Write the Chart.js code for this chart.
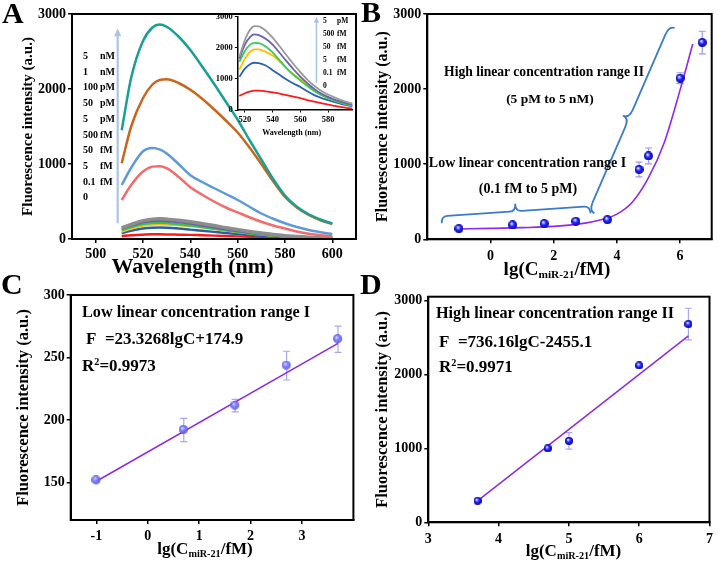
<!DOCTYPE html>
<html><head><meta charset="utf-8">
<script src="https://cdn.jsdelivr.net/npm/chart.js@4.4.1/dist/chart.umd.min.js"></script>
<style>
html,body{margin:0;padding:0;background:#fff;}
#wrap{position:relative;width:718px;height:561px;overflow:hidden;font-family:'Liberation Serif','Times New Roman',serif;font-weight:bold;color:#000;}
canvas{position:absolute;}
.t{position:absolute;white-space:nowrap;line-height:1;}
.sb{font-size:0.6em;position:relative;top:0.3em;}
.sp{font-size:0.6em;position:relative;top:-0.55em;}
</style></head><body><div id="wrap">
<canvas id="cA" width="359" height="280" style="left:0;top:0"></canvas>
<canvas id="cI" width="158" height="135" style="left:200px;top:5px"></canvas>
<canvas id="cB" width="359" height="280" style="left:359px;top:0"></canvas>
<canvas id="cC" width="359" height="281" style="left:0;top:280px"></canvas>
<canvas id="cD" width="359" height="281" style="left:359px;top:280px"></canvas>
</div>
<script>
// ---------------- DATA ----------------
// Panel A: fluorescence spectra (main plot)
const WAVES = [511,515,520,524,527,530,535,540,545,550,555,560,565,570,575,580,585,590,595,600];
const A_LABELS = [['5','nM'],['1','nM'],['100','pM'],['50','pM'],['5','pM'],['500','fM'],['50','fM'],['5','fM'],['0.1','fM'],['0','']];
const A_5nM   = [1450,2150,2640,2820,2860,2830,2700,2520,2300,2070,1830,1590,1320,1060,800,580,430,330,260,205];
const A_1nM   = [1010,1500,1880,2060,2120,2130,2080,1990,1870,1730,1580,1420,1220,1000,770,560,420,320,250,200];
const A_100pM = [720,950,1170,1215,1195,1140,1000,850,760,680,600,520,430,340,270,210,160,120,90,65];
const A_50pM  = [520,720,900,965,970,945,830,690,590,500,420,355,290,230,180,140,100,70,50,40];
const A_5pM   = [150,195,245,265,270,265,250,230,205,180,150,125,100,80,60,45,35,25,20,15];
const A_500fM = [140,180,225,240,243,240,225,205,180,155,130,108,88,70,53,40,30,22,17,13];
const A_50fM  = [120,160,200,213,216,212,198,180,160,138,115,95,77,60,46,35,26,19,14,11];
const A_5fM   = [100,140,180,193,196,193,185,172,155,135,113,93,75,59,45,35,26,19,14,10];
const A_01fM  = [80,110,140,150,152,150,140,125,110,95,80,66,54,43,34,26,20,15,11,8];
const A_0     = [40,50,58,62,62,61,58,55,50,45,40,35,30,25,20,15,11,8,5,3];
const A_XTICKS = [500,520,540,560,580,600];
const A_YTICKS = [0,1000,2000,3000];

// Panel A inset
const INSET_WAVES = [516,520,524,527,530,535,540,545,550,555,560,565,570,575,580,585,590,595,600];
const INSET_LABELS = [['5','pM'],['500','fM'],['50','fM'],['5','fM'],['0.1','fM'],['0','']];
const IN_5pM   = [1710,2250,2600,2700,2690,2550,2330,2050,1760,1480,1220,980,780,620,500,400,310,240,190];
const IN_500fM = [1650,2100,2360,2430,2410,2290,2100,1840,1570,1310,1070,860,680,530,420,330,260,200,160];
const IN_50fM  = [1550,1900,2110,2160,2150,2040,1850,1600,1350,1130,950,770,610,480,380,300,230,170,130];
const IN_5fM   = [1300,1650,1880,1950,1950,1870,1750,1560,1340,1150,990,800,630,490,380,300,230,170,125];
const IN_01fM  = [1070,1330,1480,1520,1510,1430,1280,1130,980,850,740,600,480,390,320,250,190,140,100];
const IN_0     = [450,540,600,620,620,600,570,530,480,430,380,320,270,220,170,130,90,60,30];
const IN_XTICKS = [520,540,560,580];
const IN_YTICKS = [0,1000,2000,3000];

// Panel B
const B_X   = [-1,0.7,1.7,2.7,3.7,4.7,5,6,6.7];
const B_Y   = [141,191,208,240,261,930,1110,2145,2620];
const B_ERR = [8,10,10,12,12,98,106,73,150];
const B_FIT_X = [-1,0,1,2,3,3.5,4,4.5,5,5.5,6,6.4];
const B_FIT_Y = [138,145,155,172,215,260,335,500,820,1290,1990,2600];
const B_XTICKS = [0,2,4,6];
const B_YTICKS = [0,1000,2000,3000];

// Panel C
const C_X   = [-1,0.7,1.7,2.7,3.7];
const C_Y   = [151.7,192,211.5,243.5,264.6];
const C_ERR = [1,9.3,5,11.5,10.5];
const C_FIT_X = [-1,3.7];
const C_FIT_Y = [151,261.3];
const C_XTICKS = [-1,0,1,2,3];
const C_YTICKS = [150,200,250,300];

// Panel D
const D_X   = [3.7,4.7,5,6,6.7];
const D_Y   = [290,1000,1100,2120,2680];
const D_ERR = [15,20,112,20,214];
const D_FIT_X = [3.7,6.7];
const D_FIT_Y = [290,2520];
const D_XTICKS = [3,4,5,6,7];
const D_YTICKS = [0,1000,2000,3000];

// ---------------- HELPERS ----------------
const FONT = "'Liberation Serif','Times New Roman',serif";
Chart.defaults.font.family = FONT;
Chart.defaults.font.weight = 'bold';
Chart.defaults.color = '#000';
const wrap = document.getElementById('wrap');

function pts(xs, ys){ return xs.map((x,i)=>({x:x, y:ys[i]})); }

function axis(min, max, ticks, fitKey, fitVal, o){
  o = o || {};
  return {
    type:'linear', min:min, max:max,
    afterBuildTicks: s => { s.ticks = ticks.map(v=>({value:v})); },
    afterFit: s => { s[fitKey] = fitVal; },
    grid:{display:true, drawOnChartArea:false, drawTicks:true, tickLength:(o.tickLen!=null?o.tickLen:4), color:'#000', lineWidth:(o.tickW||1.5)},
    border:{display:true, color:'#000', width:(o.borderW||2)},
    ticks:{autoSkip:false, maxRotation:0, padding:(o.pad!=null?o.pad:3), color:'#000',
      font:{family:FONT, weight:'bold', size:(o.size||14)}, callback: v => String(v)},
    title: o.title ? {display:true, text:o.title, color:'#000',
      font:{family:FONT, weight:'bold', size:o.titleSize, lineHeight:1}, padding:{top:o.titlePad, bottom:0}} : {display:false}
  };
}

const framePlugin = {id:'frame', afterDraw(chart){
  const a = chart.chartArea, ctx = chart.ctx;
  ctx.save(); ctx.lineWidth = 2; ctx.strokeStyle = '#000';
  ctx.strokeRect(a.left, a.top, a.right-a.left, a.bottom-a.top); ctx.restore();
}};

const errPlugin = {id:'err', beforeDatasetsDraw(chart){
  const ctx = chart.ctx, sx = chart.scales.x, sy = chart.scales.y;
  chart.data.datasets.forEach(ds => {
    if (!ds.errorBars) return;
    ctx.save(); ctx.strokeStyle = ds.errorColor; ctx.lineWidth = 1.2;
    ds.data.forEach((p,k) => {
      const e = ds.errorBars[k], px = sx.getPixelForValue(p.x);
      const y1 = sy.getPixelForValue(p.y+e), y2 = sy.getPixelForValue(p.y-e);
      ctx.beginPath();
      ctx.moveTo(px,y1); ctx.lineTo(px,y2);
      ctx.moveTo(px-3.5,y1); ctx.lineTo(px+3.5,y1);
      ctx.moveTo(px-3.5,y2); ctx.lineTo(px+3.5,y2);
      ctx.stroke();
    });
    ctx.restore();
  });
}};

function arrowPlugin(spec){ return {id:'arrow', beforeDatasetsDraw(chart){
  const ctx = chart.ctx, sx = chart.scales.x, sy = chart.scales.y;
  const px = sx.getPixelForValue(spec.x), y0 = sy.getPixelForValue(spec.y0), y1 = sy.getPixelForValue(spec.y1);
  ctx.save(); ctx.strokeStyle = spec.color; ctx.fillStyle = spec.color; ctx.lineWidth = spec.w;
  ctx.beginPath(); ctx.moveTo(px,y0); ctx.lineTo(px,y1+spec.head*0.8); ctx.stroke();
  ctx.beginPath(); ctx.moveTo(px,y1); ctx.lineTo(px-spec.head*0.45,y1+spec.head); ctx.lineTo(px+spec.head*0.45,y1+spec.head); ctx.closePath(); ctx.fill();
  ctx.restore();
}}; }

function drawBrace(ctx, p1, p2, w, h, r){
  const dx = p2[0]-p1[0], dy = p2[1]-p1[1], L = Math.hypot(dx,dy);
  const u = [dx/L, dy/L], n = [u[1], -u[0]];
  const P = (base, a, b) => [base[0]+a*u[0]+b*n[0], base[1]+a*u[1]+b*n[1]];
  const mid = [(p1[0]+p2[0])/2, (p1[1]+p2[1])/2];
  const c1 = P(p1,0,h), a1 = P(p1,r,h), m1 = P(mid,-r,h), cm = P(mid,0,h), tip = P(mid,0,w), m2 = P(mid,r,h), a2 = P(p2,-r,h), c2 = P(p2,0,h);
  ctx.beginPath();
  ctx.moveTo(p1[0],p1[1]);
  ctx.quadraticCurveTo(c1[0],c1[1],a1[0],a1[1]);
  ctx.lineTo(m1[0],m1[1]);
  ctx.quadraticCurveTo(cm[0],cm[1],tip[0],tip[1]);
  ctx.quadraticCurveTo(cm[0],cm[1],m2[0],m2[1]);
  ctx.lineTo(a2[0],a2[1]);
  ctx.quadraticCurveTo(c2[0],c2[1],p2[0],p2[1]);
  ctx.stroke();
}
const bracePlugin = {id:'braces', afterDatasetsDraw(chart){
  const ctx = chart.ctx, sx = chart.scales.x, sy = chart.scales.y;
  const specs = [
    {a:[-1.543,213], b:[3.165,347], w:14, h:7, r:6},
    {a:[3.29,347],  b:[5.83,2813], w:12, h:6, r:10}
  ];
  ctx.save(); ctx.strokeStyle = '#3b7bc8'; ctx.lineWidth = 1.8; ctx.lineJoin = 'round';
  specs.forEach(s => drawBrace(ctx,
    [sx.getPixelForValue(s.a[0]), sy.getPixelForValue(s.a[1])],
    [sx.getPixelForValue(s.b[0]), sy.getPixelForValue(s.b[1])], s.w, s.h, s.r));
  ctx.restore();
}};

function sphere(r, hi, mid, edge, alpha){
  const c = document.createElement('canvas'); c.width = c.height = Math.ceil(2*r);
  const g = c.getContext('2d');
  const grd = g.createRadialGradient(r*0.75, r*0.65, r*0.05, r, r, r);
  grd.addColorStop(0, hi); grd.addColorStop(0.45, mid); grd.addColorStop(1, edge);
  g.globalAlpha = alpha; g.fillStyle = grd; g.beginPath(); g.arc(r, r, r, 0, Math.PI*2); g.fill();
  return c;
}

function txt(html, x, y, size, anchor){
  const d = document.createElement('div'); d.className = 't'; d.innerHTML = html;
  d.style.fontSize = size+'px'; d.style.left = x+'px'; d.style.top = y+'px';
  d.style.transform = anchor === 'c' ? 'translate(-50%,-50%)' : 'translate(0,-50%)';
  wrap.appendChild(d); return d;
}

const baseOpts = (pad, scales) => ({
  responsive:false, animation:false, events:[],
  layout:{padding:pad},
  plugins:{legend:{display:false}, tooltip:{enabled:false}},
  scales:scales
});

// ---------------- PANEL A ----------------
const A_SERIES = [A_5nM,A_1nM,A_100pM,A_50pM,A_5pM,A_500fM,A_50fM,A_5fM,A_01fM,A_0];
const A_COLORS = ['#17a093','#c9651c','#5e9ad8','#f56b6b','#8d8d8d','#6a5fae','#34c452','#ffbd10','#2d5fa9','#ff1a1a'];
const A_WIDTHS = [2.5,2.5,2.5,2.5,3.5,2.5,2.5,2.5,2.5,2.5];
new Chart(document.getElementById('cA'), {
  type:'scatter',
  data:{datasets: A_SERIES.map((s,i)=>({data:pts(WAVES,s), showLine:true, borderColor:A_COLORS[i], borderWidth:A_WIDTHS[i], pointRadius:0, cubicInterpolationMode:'monotone'}))},
  options: baseOpts({left:0,top:14,right:3,bottom:0}, {
    x: axis(490,610,A_XTICKS,'height',41,{pad:3}),
    y: axis(0,3000,A_YTICKS,'width',72,{pad:2, title:'Fluorescence intensity (a.u.)', titleSize:15, titlePad:21})
  }),
  plugins:[framePlugin, arrowPlugin({x:509.3, y0:209, y1:2809, color:'#aac4e6', w:2.2, head:8})]
});

// inset
const IN_SERIES = [IN_5pM,IN_500fM,IN_50fM,IN_5fM,IN_01fM,IN_0];
const IN_COLORS = ['#9a9a9a','#6a5fb5','#33cc55','#ffbf00','#2a62b0','#ff1a1a'];
new Chart(document.getElementById('cI'), {
  type:'scatter',
  data:{datasets: IN_SERIES.map((s,i)=>({data:pts(INSET_WAVES,s), showLine:true, borderColor:IN_COLORS[i], borderWidth:1.8, pointRadius:0, cubicInterpolationMode:'monotone'}))},
  options: baseOpts({left:0,top:11.7,right:5.7,bottom:0}, {
    x: axis(514.5,597.5,IN_XTICKS,'height',30,{pad:2, size:8.5, tickLen:2.5, tickW:1, borderW:1.5}),
    y: axis(0,3000,IN_YTICKS,'width',37.3,{pad:2, size:8.5, tickLen:2.5, tickW:1, borderW:1.5})
  }),
  plugins:[arrowPlugin({x:571.6, y0:868, y1:3000, color:'#aac4e6', w:1.5, head:6})]
});

// ---------------- PANEL B ----------------
const SPH_B = sphere(4.5,'#ffffff','#2b2bff','#0000a8',1);
new Chart(document.getElementById('cB'), {
  type:'scatter',
  data:{datasets:[
    {data:pts(B_X,B_Y), pointStyle:SPH_B, pointRadius:4.5, errorBars:B_ERR, errorColor:'#9a9aee'},
    {data:pts(B_FIT_X,B_FIT_Y), showLine:true, borderColor:'#9028ee', borderWidth:1.6, pointRadius:0, cubicInterpolationMode:'monotone'}
  ]},
  options: baseOpts({left:0,top:14,right:6.3,bottom:0}, {
    x: axis(-2,7,B_XTICKS,'height',40.7,{pad:5}),
    y: axis(0,3000,B_YTICKS,'width',68.3,{pad:2, title:'Fluorescence intensity (a.u.)', titleSize:16, titlePad:15.5})
  }),
  plugins:[framePlugin, errPlugin, bracePlugin]
});

// ---------------- PANEL C ----------------
const SPH_C = sphere(4.6,'#d6d6ff','#7878f6','#5a5ae2',0.9);
new Chart(document.getElementById('cC'), {
  type:'scatter',
  data:{datasets:[
    {data:pts(C_X,C_Y), pointStyle:SPH_C, pointRadius:4.6, errorBars:C_ERR, errorColor:'#a8a8f0'},
    {data:pts(C_FIT_X,C_FIT_Y), showLine:true, borderColor:'#8a2be2', borderWidth:1.5, pointRadius:0}
  ]},
  options: baseOpts({left:0,top:15,right:1,bottom:0}, {
    x: axis(-1.5,4,C_XTICKS,'height',41,{pad:4}),
    y: axis(120,300,C_YTICKS,'width',70.7,{pad:2, title:'Fluorescence intensity (a.u.)', titleSize:16.5, titlePad:15.3})
  }),
  plugins:[framePlugin, errPlugin]
});

// ---------------- PANEL D ----------------
const SPH_D = sphere(4,'#ffffff','#2b2bff','#0000a8',1);
new Chart(document.getElementById('cD'), {
  type:'scatter',
  data:{datasets:[
    {data:pts(D_X,D_Y), pointStyle:SPH_D, pointRadius:4, errorBars:D_ERR, errorColor:'#a8a8f0'},
    {data:pts(D_FIT_X,D_FIT_Y), showLine:true, borderColor:'#8a2be2', borderWidth:1.5, pointRadius:0}
  ]},
  options: baseOpts({left:0,top:16.7,right:4,bottom:0}, {
    x: axis(3,7,D_XTICKS,'height',38.7,{pad:5}),
    y: axis(0,3050,D_YTICKS,'width',69.3,{pad:2, title:'Fluorescence intensity (a.u.)', titleSize:16.5, titlePad:15.3})
  }),
  plugins:[framePlugin, errPlugin]
});

// ---------------- TEXT ----------------
txt('A', 2, 13, 30, 'l');
txt('B', 361, 12, 30, 'l');
txt('C', 1, 284, 30, 'l');
txt('D', 360, 284, 30, 'l');

A_LABELS.forEach((l,i) => {
  txt('<span style="display:inline-block;width:17px">'+l[0]+'</span>'+l[1], 83, 56+i*15.7, 10, 'l');
});
INSET_LABELS.forEach((l,i) => {
  txt('<span style="display:inline-block;width:14px">'+l[0]+'</span>'+l[1], 323, 21+i*12.9, 7.5, 'l');
});
txt('Wavelength (nm)', 291.7, 132.7, 8, 'c');
txt('Wavelength (nm)', 192.5, 266, 22, 'c');

const XT = 'lg(C<span class="sb">miR-21</span>/fM)';
txt(XT, 557, 268, 19, 'c');
txt(XT, 205, 548, 17, 'c');
txt(XT, 573.5, 550, 17, 'c');

txt('High linear concentration range II', 544, 72, 13.6, 'c');
txt('(5 pM to 5 nM)', 550, 99, 13.5, 'c');
txt('Low linear concentration range I', 527.5, 163, 14, 'c');
txt('(0.1 fM to 5 pM)', 528, 189, 14, 'c');

txt('Low linear concentration range I', 82, 312, 16.2, 'l');
txt('F&nbsp;&nbsp;=23.3268lgC+174.9', 86, 338, 17, 'l');
txt('R<span class="sp">2</span>=0.9973', 82, 365, 17, 'l');

txt('High linear concentration range II', 436, 313, 16.2, 'l');
txt('F&nbsp;&nbsp;=736.16lgC-2455.1', 439, 341, 17, 'l');
txt('R<span class="sp">2</span>=0.9971', 439, 366, 17, 'l');
</script>
</body></html>
